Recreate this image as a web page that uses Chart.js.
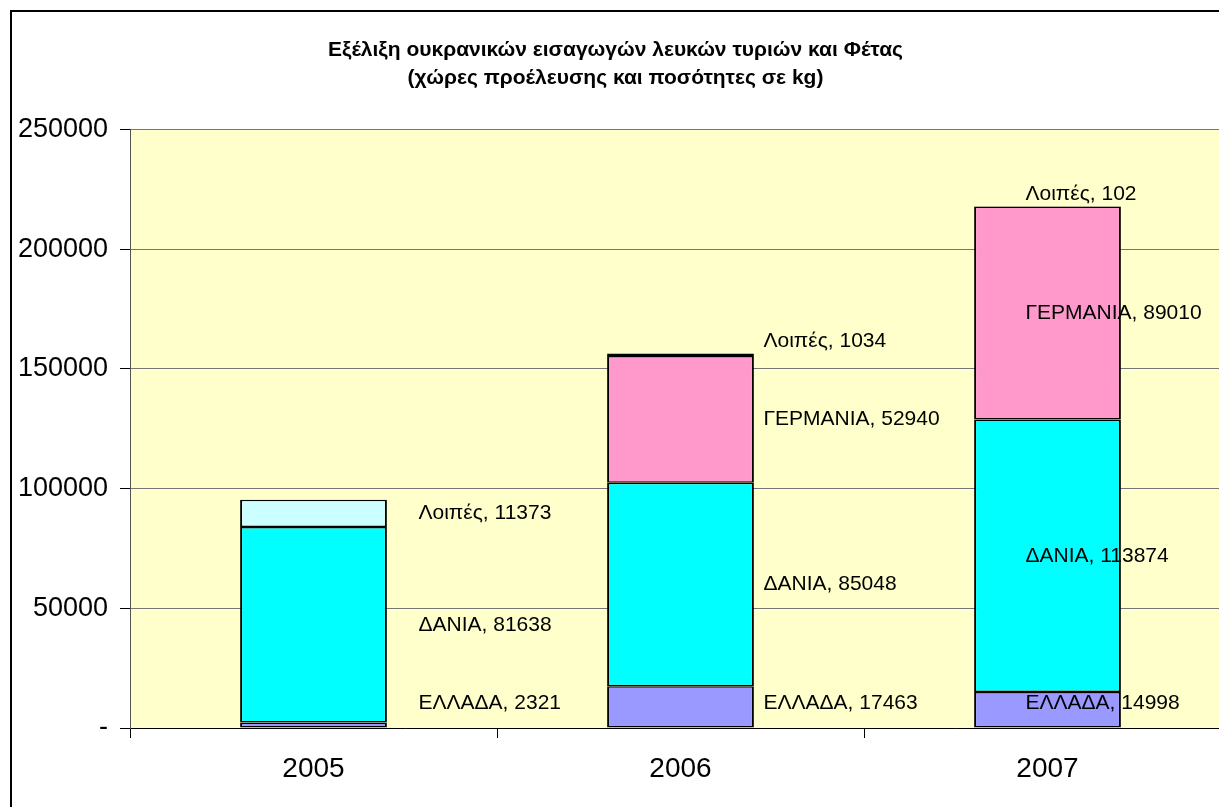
<!DOCTYPE html>
<html>
<head>
<meta charset="utf-8">
<title>Εισαγωγές λευκών τυριών και Φέτας</title>
<script src="https://cdn.jsdelivr.net/npm/chart.js@4.4.1/dist/chart.umd.min.js"></script>
<style>
    html, body { margin: 0; padding: 0; background: #ffffff; overflow: hidden; }
    #chart { display: block; }
</style>
</head>
<body>
<canvas id="chart" width="1240" height="807"></canvas>
<script>
// Δεδομένα (kg)
const years = ["2005", "2006", "2007"];
const greece = [2321, 17463, 14998];
const denmark = [81638, 85048, 113874];
const germany = [null, 52940, 89010];
const others = [11373, 1034, 102];
const yTicks = [0, 50000, 100000, 150000, 200000, 250000];

const FONT = "'Liberation Sans', Arial, sans-serif";

// πόσο μετακινείται η ετικέτα από το κέντρο της μπάρας, ανά έτος
const labelShift = [105, 83, -22];

// φόντο και πλαίσιο
const backgroundPlugin = {
    id: "background",
    beforeDraw(chart) {
        const ctx = chart.ctx;
        const a = chart.chartArea;
        ctx.save();
        ctx.fillStyle = "#ffffff";
        ctx.fillRect(0, 0, chart.width, chart.height);
        ctx.fillStyle = "#ffffcc";
        ctx.fillRect(a.left, a.top, a.right - a.left, a.bottom - a.top);
        ctx.strokeStyle = "#000000";
        ctx.lineWidth = 2;
        ctx.beginPath();
        ctx.moveTo(11, chart.height);
        ctx.lineTo(11, 11);
        ctx.lineTo(chart.width, 11);
        ctx.stroke();
        ctx.restore();
    }
};

// ετικέτες "χώρα, τιμή" δίπλα στις μπάρες
const labelPlugin = {
    id: "segmentLabels",
    afterDatasetsDraw(chart) {
        const ctx = chart.ctx;
        const bottom = chart.chartArea.bottom;
        ctx.save();
        ctx.font = "21px " + FONT;
        ctx.fillStyle = "#000000";
        ctx.textAlign = "left";
        ctx.textBaseline = "middle";
        chart.data.datasets.forEach((ds, i) => {
            const meta = chart.getDatasetMeta(i);
            meta.data.forEach((bar, j) => {
                const v = ds.data[j];
                if (v === null || v === undefined) return;
                const top = Math.min(bar.y, bar.base);
                const h = Math.abs(bar.base - bar.y);
                let y = top + h / 2;
                if (h < 20) y = Math.min(y, top - 12);
                y = Math.min(y, bottom - 25);
                ctx.fillText(ds.label + ", " + v, bar.x + labelShift[j], y);
            });
        });
        ctx.restore();
    }
};

function drawChart() {
    new Chart(document.getElementById("chart"), {
        type: "bar",
        data: {
            labels: years,
            datasets: [
                { label: "ΕΛΛΑΔΑ", data: greece, backgroundColor: "#9999ff" },
                { label: "ΔΑΝΙΑ", data: denmark, backgroundColor: "#00ffff" },
                { label: "ΓΕΡΜΑΝΙΑ", data: germany, backgroundColor: "#ff99cc" },
                { label: "Λοιπές", data: others, backgroundColor: "#ccffff" }
            ]
        },
        options: {
            responsive: false,
            animation: false,
            devicePixelRatio: 1,
            layout: { padding: { left: 0, right: 9, top: 0, bottom: 0 } },
            datasets: {
                bar: {
                    borderColor: "#000000",
                    borderWidth: { top: 1.5, bottom: 1.5, left: 2, right: 2 },
                    borderSkipped: false,
                    inflateAmount: 0,
                    barPercentage: 0.4,
                    categoryPercentage: 1
                }
            },
            plugins: {
                legend: { display: false },
                tooltip: { enabled: false },
                title: {
                    display: true,
                    text: ["Εξέλιξη ουκρανικών εισαγωγών λευκών τυριών και Φέτας",
                           "(χώρες προέλευσης και ποσότητες σε kg)"],
                    color: "#000000",
                    font: { family: FONT, size: 21, weight: "bold", lineHeight: 1.3 },
                    padding: { top: 37, bottom: 38 }
                }
            },
            scales: {
                x: {
                    stacked: true,
                    afterFit: s => { s.height = 79; },
                    grid: {
                        offset: true,
                        drawOnChartArea: false,
                        color: "#000000",
                        tickLength: 10
                    },
                    border: { color: "#000000", width: 1 },
                    ticks: {
                        color: "#000000",
                        padding: 14,
                        font: { family: FONT, size: 28 }
                    }
                },
                y: {
                    stacked: true,
                    min: 0,
                    max: 250000,
                    afterFit: s => { s.width = 130; },
                    afterBuildTicks: s => { s.ticks = yTicks.map(v => ({ value: v })); },
                    grid: {
                        color: "#767676",
                        tickColor: "#000000",
                        tickLength: 10
                    },
                    border: { color: "#555555", width: 1 },
                    ticks: {
                        color: "#000000",
                        padding: 12,
                        font: { family: FONT, size: 27 },
                        callback: v => v === 0 ? "-" : String(v)
                    }
                }
            }
        },
        plugins: [backgroundPlugin, labelPlugin]
    });
}

drawChart();
</script>
</body>
</html>
